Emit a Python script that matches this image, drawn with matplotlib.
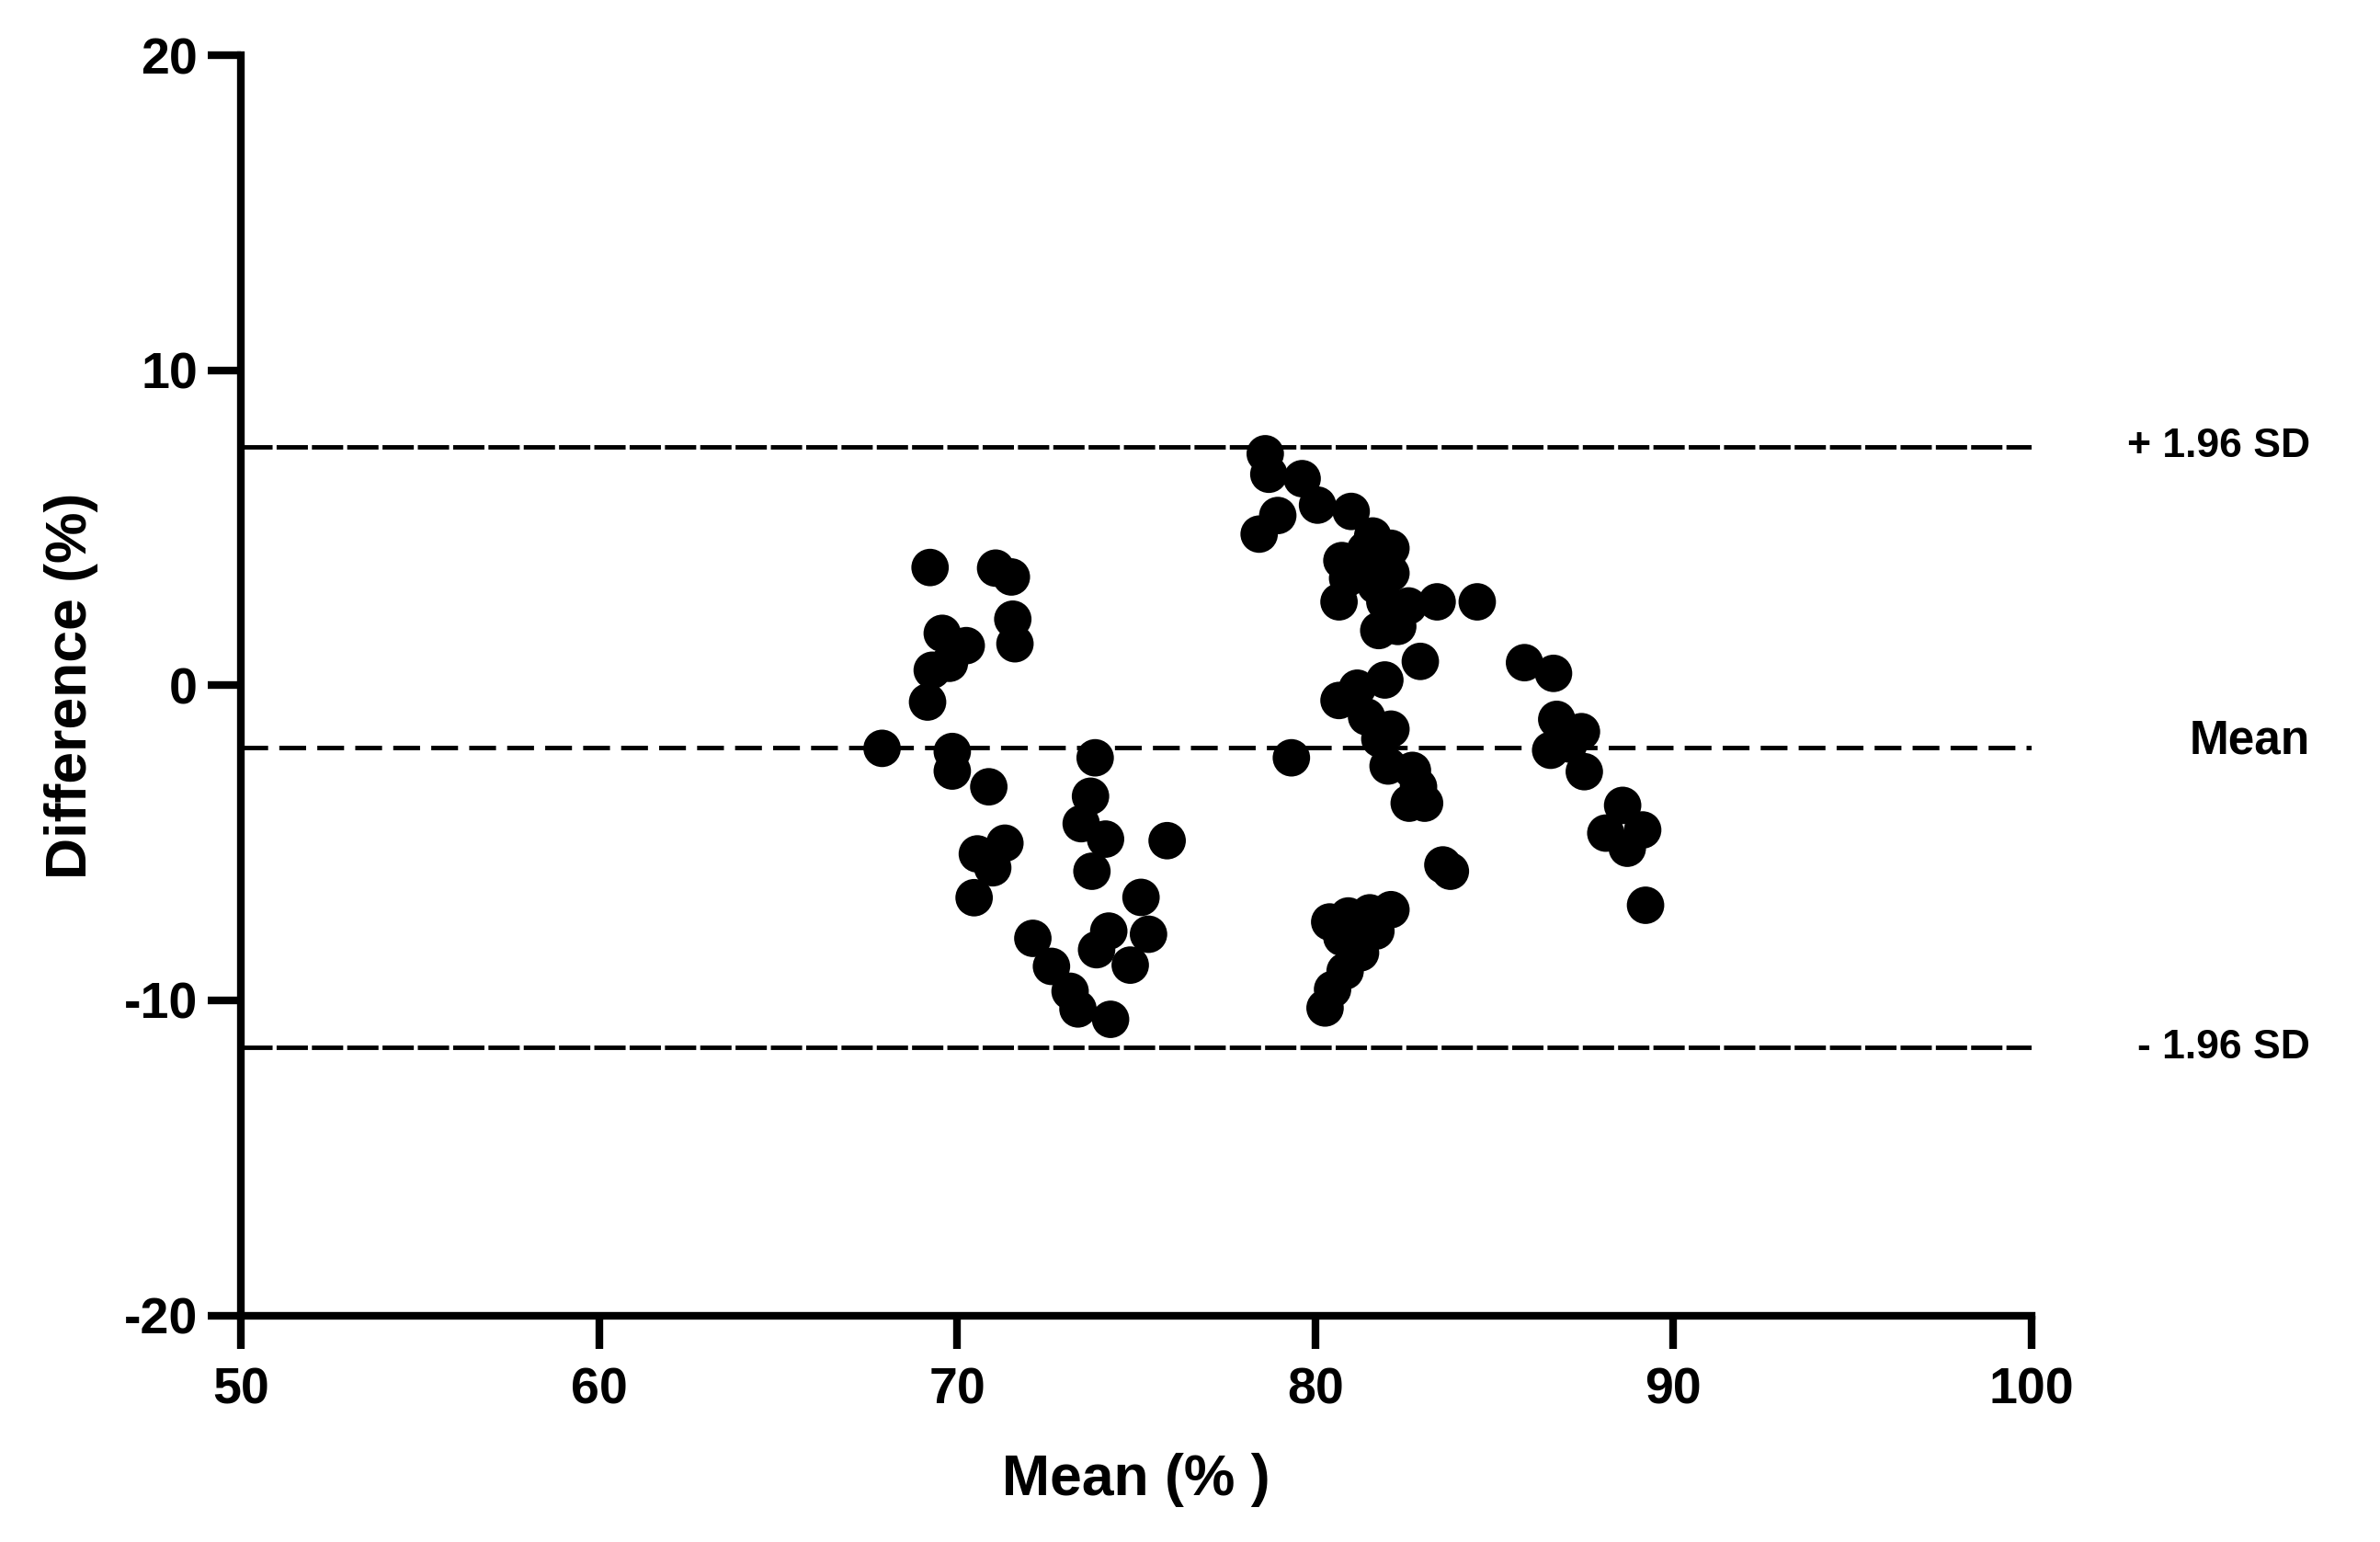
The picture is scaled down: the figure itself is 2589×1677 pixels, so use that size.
import matplotlib
matplotlib.use("Agg")
import matplotlib.pyplot as plt

plt.rcParams["font.family"] = ["Liberation Sans", "DejaVu Sans"]
plt.rcParams["font.weight"] = "bold"
plt.rcParams["axes.unicode_minus"] = False

# Bland-Altman data
mean_pct = [
    67.9, 69.24, 71.07, 71.51, 71.55, 71.61, 69.58, 70.25, 69.78, 69.30,
    69.17, 69.86, 69.86, 70.88, 70.56, 71.33, 70.99, 70.47, 73.85, 73.72,
    73.46, 74.14, 73.76, 75.86, 75.13, 74.23, 73.89, 74.83, 75.34, 72.11,
    72.63, 73.15, 73.37, 74.28,
    78.6, 78.7, 79.63, 80.06, 78.43, 78.95, 81.0, 81.60, 82.11, 80.74,
    81.26, 82.11, 81.69, 80.66, 81.94, 81.77, 82.93, 83.40, 84.52, 82.6,
    82.3, 81.94, 80.66, 81.17, 81.43, 82.11, 79.33, 82.03, 82.71, 82.88,
    83.05, 82.62, 83.56, 83.77, 80.40, 80.92, 81.52, 82.11, 81.69, 81.26,
    80.83, 80.48, 80.27, 80.74, 81.4, 80.9, 81.8,
    85.84, 86.65, 86.74, 87.43, 86.57, 87.51, 87.08, 88.58, 88.11, 89.14,
    88.71, 89.22,
]
diff_pct = [
    -2.0, 3.74, 3.72, 3.44, 2.10, 1.32, 1.65, 1.26, 0.70, 0.48,
    -0.53, -2.10, -2.72, -3.22, -5.35, -5.01, -5.79, -6.74, -2.30, -3.52,
    -4.39, -4.88, -5.90, -4.93, -6.73, -7.8, -8.39, -8.88, -7.9, -8.03,
    -8.92, -9.71, -10.27, -10.6,
    7.35, 6.7, 6.56, 5.72, 4.80, 5.39, 5.52, 4.74, 4.35, 3.96,
    3.83, 3.56, 3.17, 2.65, 2.65, 1.74, 0.76, 2.65, 2.65, 2.52,
    1.87, 0.17, -0.48, -0.09, -1.0, -1.39, -2.30, -2.56, -2.70, -3.22,
    -3.74, -3.74, -5.7, -5.9, -7.51, -7.32, -7.22, -7.12, -7.80, -8.49,
    -9.07, -9.65, -10.24, -8.0, 4.3, 3.4, -1.7,
    0.72, 0.38, -1.08, -1.47, -2.06, -2.74, -1.86, -3.81, -4.69, -4.59,
    -5.17, -6.98,
]

bias = -1.98
upper_loa = 7.57
lower_loa = -11.5

fig = plt.figure(figsize=(25.89, 16.77), dpi=100)
ax = fig.add_axes([0.1013, 0.1469, 0.7523, 0.8173])

ax.scatter(mean_pct, diff_pct, s=860, color="black", edgecolors="none", zorder=3)

ax.axhline(upper_loa, color="black", lw=3.5, dashes=(7, 0.9), zorder=2)
ax.axhline(bias, color="black", lw=3.5, dashes=(6, 2.5), zorder=2)
ax.axhline(lower_loa, color="black", lw=3.5, dashes=(7, 0.9), zorder=2)

trans = ax.get_yaxis_transform()
ax.text(1.1556, upper_loa, "+ 1.96 SD", transform=trans,
        ha="right", va="center", fontsize=32, fontweight="bold")
ax.text(1.1556, bias + 0.2, "Mean", transform=trans,
        ha="right", va="center", fontsize=37, fontweight="bold")
ax.text(1.1556, lower_loa, "- 1.96 SD", transform=trans,
        ha="right", va="center", fontsize=32, fontweight="bold")

ax.set_xlim(50, 100)
ax.set_ylim(-20, 20)
ax.set_xticks([50, 60, 70, 80, 90, 100])
ax.set_yticks([-20, -10, 0, 10, 20])

for side in ["top", "right"]:
    ax.spines[side].set_visible(False)
for side in ["left", "bottom"]:
    ax.spines[side].set_linewidth(6)

ax.tick_params(axis="both", which="major", direction="out", length=26, width=6,
               labelsize=40)
ax.tick_params(axis="x", pad=14)
ax.tick_params(axis="y", pad=8)
for lbl in ax.get_xticklabels() + ax.get_yticklabels():
    lbl.set_fontweight("bold")

ax.set_xlabel("Mean (% )", fontsize=45, fontweight="bold", labelpad=30)
ax.set_ylabel("Difference (%)", fontsize=45, fontweight="bold", labelpad=20)

plt.savefig("out.png", dpi=100)
